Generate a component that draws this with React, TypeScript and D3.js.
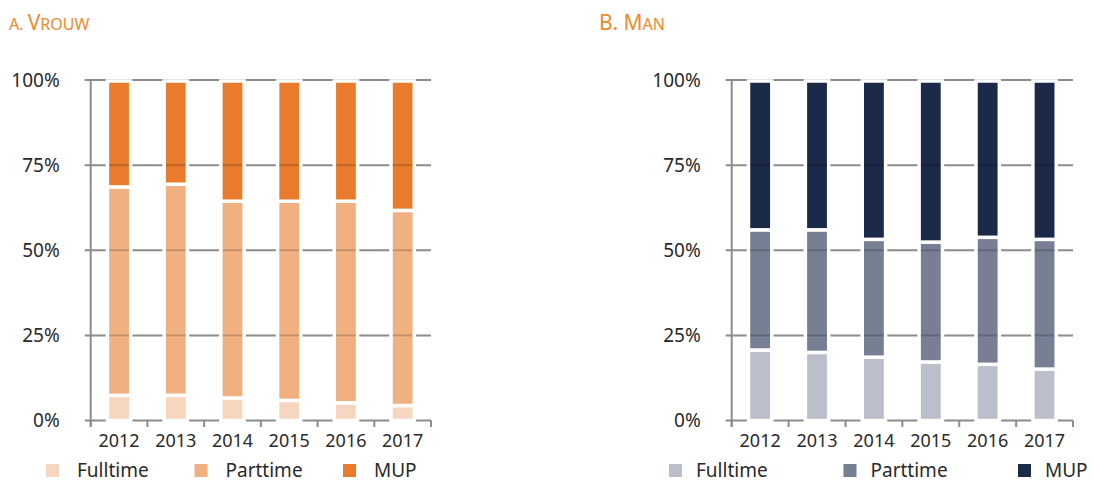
import React from 'react';
import * as d3 from 'd3';

const years = ['2012', '2013', '2014', '2015', '2016', '2017'];
const seriesNames = ['Fulltime', 'Parttime', 'MUP'];
const yTicks = [0, 25, 50, 75, 100];

const vrouwFulltime = [7.4, 7.4, 6.6, 5.9, 5.2, 4.4];
const vrouwParttime = [61.2, 62.0, 57.8, 58.5, 59.2, 57.3];
const vrouwMUP = [31.4, 30.6, 35.6, 35.6, 35.6, 38.3];

const manFulltime = [20.7, 20.0, 18.6, 17.2, 16.5, 15.1];
const manParttime = [35.3, 36.0, 34.6, 35.2, 37.3, 38.1];
const manMUP = [44.0, 44.0, 46.8, 47.6, 46.2, 46.8];

const vrouwColors = ['#F7D6C0', '#F1B080', '#E97C2C'];
const manColors = ['#BBBFCB', '#777F94', '#1C2A4A'];

const FONT = '"Noto Sans", "Open Sans", sans-serif';
const AXIS = '#8c8c8c';
const TITLE = '#EE8A2C';
const TEXT = '#2a2a2a';

type PanelProps = {
  x0: number;
  x1: number;
  series: number[][];
  colors: string[];
  legendStart: number;
  legendStep: number;
  legendTextOff: number;
};

function Panel({ x0, x1, series, colors, legendStart, legendStep, legendTextOff }: PanelProps) {
  const x = d3.scaleBand<string>().domain(years).range([x0, x1]).paddingInner(0).paddingOuter(0);
  const y = d3.scaleLinear().domain([0, 100]).range([420.5, 80]);
  const bw = x.bandwidth() * 0.41;

  const stackData = years.map((yr, i) => {
    const o: any = { year: yr };
    seriesNames.forEach((s, k) => (o[s] = series[k][i]));
    return o;
  });
  const stacked = d3.stack<any>().keys(seriesNames)(stackData);

  const inset = 1.75;
  return (
    <g>
      {yTicks.map((t) => (
        <line key={'g' + t} x1={x0 - 6} x2={x1} y1={y(t)} y2={y(t)} stroke={AXIS} strokeWidth={2} />
      ))}
      {[...years.map((yr) => x(yr) as number), x1].map((px, i) => (
        <line key={'xt' + i} x1={px} x2={px} y1={y(0)} y2={y(0) + 6.5} stroke={AXIS} strokeWidth={2} />
      ))}
      <line x1={x0} x2={x0} y1={y(100) - 1} y2={y(0) + 6.5} stroke={AXIS} strokeWidth={2} />
      {stacked.map((layer, k) =>
        layer.map((d, i) => {
          const cx = (x(years[i]) as number) + x.bandwidth() / 2;
          return (
            <rect
              key={'b' + k + '-' + i}
              x={cx - bw / 2}
              y={y(d[1]) + (k === 2 ? 1 : 0)}
              width={bw}
              height={y(d[0]) - y(d[1]) - (k === 2 ? 1 : 0)}
              fill={colors[k]}
              stroke="#ffffff"
              strokeWidth={3.5}
            />
          );
        })
      )}
      {[25, 50, 75].map((t) =>
        years.map((yr) => {
          const cx = (x(yr) as number) + x.bandwidth() / 2;
          return (
            <line
              key={'o' + t + yr}
              x1={cx - bw / 2 + inset}
              x2={cx + bw / 2 - inset}
              y1={y(t)}
              y2={y(t)}
              stroke="#000"
              strokeOpacity={0.18}
              strokeWidth={2}
            />
          );
        })
      )}
      {yTicks.map((t) => (
        <text
          key={'yl' + t}
          x={x0 - 31}
          y={y(t)}
          dy="0.36em"
          textAnchor="end"
          fontFamily={FONT}
          fontSize={19}
          fill={TEXT}
        >
          {t + '%'}
        </text>
      ))}
      {years.map((yr) => (
        <text
          key={'xl' + yr}
          x={(x(yr) as number) + x.bandwidth() / 2}
          y={447}
          textAnchor="middle"
          fontFamily={FONT}
          fontSize={18}
          fill={TEXT}
        >
          {yr}
        </text>
      ))}
      {seriesNames.map((s, k) => {
        const lx = legendStart + k * legendStep;
        return (
          <g key={'lg' + s}>
            <rect x={lx} y={464} width={13} height={13} fill={colors[k]} />
            <text x={lx + legendTextOff} y={476.5} fontFamily={FONT} fontSize={19} fill={TEXT}>
              {s}
            </text>
          </g>
        );
      })}
    </g>
  );
}

export default function App() {
  return (
    <svg
      width={1094}
      height={482}
      style={{ position: 'absolute', left: 0, top: 0, display: 'block', background: '#fff' }}
    >
      <text x={9} y={30} fontFamily={FONT} fill={TITLE}>
        <tspan fontSize={16}>A. </tspan>
        <tspan fontSize={21}>V</tspan>
        <tspan fontSize={16}>ROUW</tspan>
      </text>
      <text x={599} y={30} fontFamily={FONT} fill={TITLE}>
        <tspan fontSize={21}>B. M</tspan>
        <tspan fontSize={16}>AN</tspan>
      </text>
      <Panel
        x0={90.7}
        x1={431}
        series={[vrouwFulltime, vrouwParttime, vrouwMUP]}
        colors={vrouwColors}
        legendStart={46}
        legendStep={148.5}
        legendTextOff={31}
      />
      <Panel
        x0={731.7}
        x1={1073}
        series={[manFulltime, manParttime, manMUP]}
        colors={manColors}
        legendStart={669}
        legendStep={174.5}
        legendTextOff={27}
      />
    </svg>
  );
}
